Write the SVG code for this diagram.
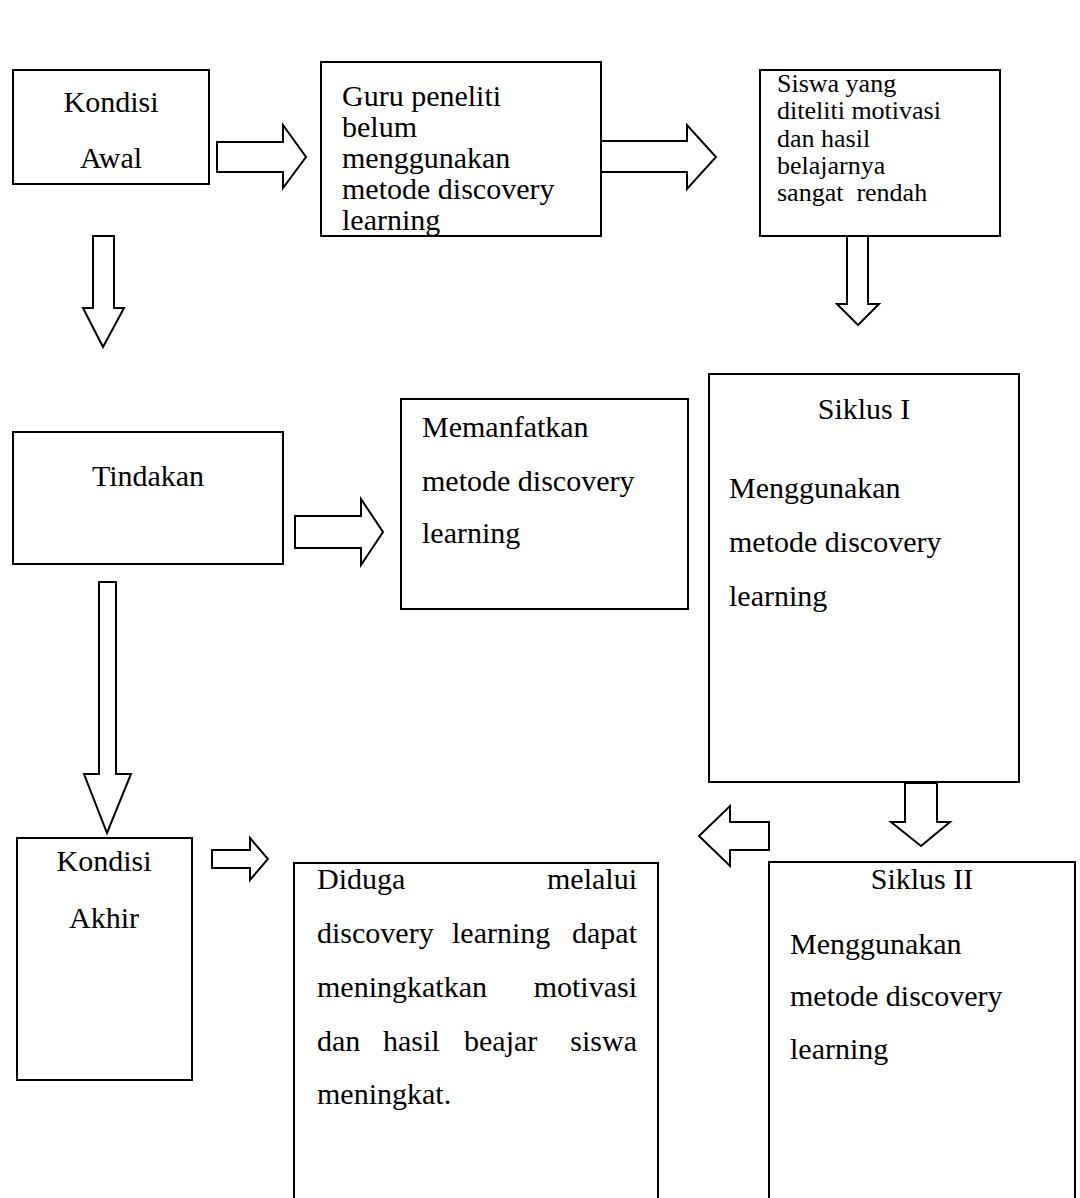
<svg xmlns="http://www.w3.org/2000/svg" width="1080" height="1198" viewBox="0 0 1080 1198">
<style>
.box{fill:#fff;stroke:#000;stroke-width:2}
.arr{fill:#fff;stroke:#000;stroke-width:2;stroke-linejoin:miter}
text{font-family:"Liberation Serif","Times New Roman",serif;font-size:30px;fill:#000}
.sm{font-size:26px}
.c{text-anchor:middle}
.e{text-anchor:end}
</style>
<rect width="1080" height="1198" fill="#fff"/>
<g id="connectors">
<polygon class="arr" points="217,142 283,142 283,125 306,157 283,188 283,172 217,172"/>
<polygon class="arr" points="601,141 687,141 687,125 716,157 687,189 687,172 601,172"/>
<polygon class="arr" points="847,236 868,236 868,304 879,304 858,325 837,304 847,304"/>
<polygon class="arr" points="93,236 114,236 114,308 124,308 103,347 83,308 93,308"/>
<polygon class="arr" points="295,516 361,516 361,499 383,532 361,565 361,548 295,548"/>
<polygon class="arr" points="99,582 116,582 116,774 131,774 107,833 84,774 99,774"/>
<polygon class="arr" points="212,850 250,850 250,838 268,859 250,880 250,868 212,868"/>
<polygon class="arr" points="905,783 937,783 937,822 950,822 921,846 891,822 905,822"/>
<polygon class="arr" points="769,822 730,822 730,806 699,836 730,866 730,850 769,850"/>
</g>
<g id="kondisi-awal">
<rect class="box" x="13" y="70" width="196" height="114"/>
<text class="c" x="111" y="112">Kondisi</text>
<text class="c" x="111" y="168">Awal</text>
</g>
<g id="guru">
<rect class="box" x="321" y="62" width="280" height="174"/>
<text x="342" y="106">Guru peneliti</text>
<text x="342" y="137">belum</text>
<text x="342" y="168">menggunakan</text>
<text x="342" y="199">metode discovery</text>
<text x="342" y="230">learning</text>
</g>
<g id="siswa">
<rect class="box" x="760" y="70" width="240" height="166"/>
<text class="sm" x="777" y="92">Siswa yang</text>
<text class="sm" x="777" y="119">diteliti motivasi</text>
<text class="sm" x="777" y="147">dan hasil</text>
<text class="sm" x="777" y="174">belajarnya</text>
<text class="sm" x="777" y="201" xml:space="preserve">sangat  rendah</text>
</g>
<g id="tindakan">
<rect class="box" x="13" y="432" width="270" height="132"/>
<text class="c" x="148" y="486">Tindakan</text>
</g>
<g id="memanfatkan">
<rect class="box" x="401" y="399" width="287" height="210"/>
<text x="422" y="437">Memanfatkan</text>
<text x="422" y="491">metode discovery</text>
<text x="422" y="543">learning</text>
</g>
<g id="siklus-1">
<rect class="box" x="709" y="374" width="310" height="408"/>
<text class="c" x="864" y="419">Siklus I</text>
<text x="729" y="498">Menggunakan</text>
<text x="729" y="552">metode discovery</text>
<text x="729" y="606">learning</text>
</g>
<g id="kondisi-akhir">
<rect class="box" x="17" y="838" width="175" height="242"/>
<text class="c" x="104" y="871">Kondisi</text>
<text class="c" x="104" y="928">Akhir</text>
</g>
<g id="diduga">
<path class="box" d="M294,1200 V863 H658 V1200"/>
<text x="317" y="889">Diduga</text>
<text class="e" x="637" y="889">melalui</text>
<text x="317" y="943">discovery</text>
<text x="452" y="943">learning</text>
<text class="e" x="637" y="943">dapat</text>
<text x="317" y="997">meningkatkan</text>
<text class="e" x="637" y="997">motivasi</text>
<text x="317" y="1051">dan</text>
<text x="383" y="1051">hasil</text>
<text x="464" y="1051">beajar</text>
<text class="e" x="637" y="1051">siswa</text>
<text x="317" y="1104">meningkat.</text>
</g>
<g id="siklus-2">
<path class="box" d="M769,1200 V862 H1075 V1200"/>
<text class="c" x="922" y="889">Siklus II</text>
<text x="790" y="954">Menggunakan</text>
<text x="790" y="1006">metode discovery</text>
<text x="790" y="1059">learning</text>
</g>
</svg>
